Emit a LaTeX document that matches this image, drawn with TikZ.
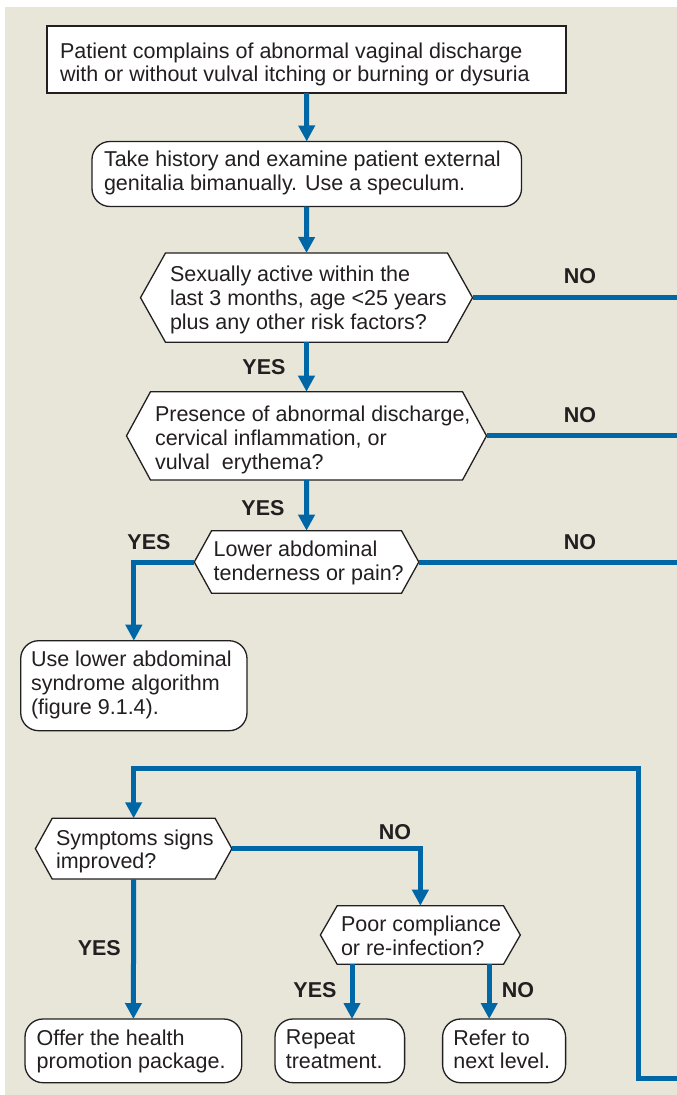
\documentclass[tikz,border=0pt]{standalone}
\usepackage{fontspec}
\setmainfont{Liberation Sans}
\usetikzlibrary{arrows.meta,calc}
\definecolor{bgc}{HTML}{E8E5D9}
\definecolor{flowc}{HTML}{0067A6}
\definecolor{ink}{HTML}{231F20}
\newcommand\hexpath[5]{%
  \draw[boxline] ({#1+#5},#2) -- ({#3-#5},#2) -- (#3,{(#2+#4)/2}) -- ({#3-#5},#4)
    -- ({#1+#5},#4) -- (#1,{(#2+#4)/2}) -- cycle;}
\begin{document}
\begin{tikzpicture}[x=1pt,y=-1pt,
  every node/.style={inner sep=0pt, outer sep=0pt},
  boxline/.style={draw=ink, line width=1.3pt, fill=white},
  rectbox/.style={boxline, rectangle},
  roundbox/.style={boxline, rectangle, rounded corners=18pt},
  hexframe/.style={rectangle},
  txt/.style={anchor=north west, align=left, text=ink, font=\fontsize{21.5}{23.6}\selectfont},
  lbl/.style={text=ink, font=\fontsize{21.5}{23.6}\selectfont\bfseries},
  flow/.style={draw=flowc, line width=5pt, -{Triangle[length=16pt,width=16pt]}},
  flowline/.style={draw=flowc, line width=5pt}]
\useasboundingbox (0,0) rectangle (677,1095);
\fill[bgc] (5,7) rectangle (677,1095);

% box 1
\node[rectbox, minimum width=519pt, minimum height=67pt] (b1) at (306.5,59.5) {};
\node[txt] (b1t) at (60,42.6) {Patient complains of abnormal vaginal discharge\\with or without vulval itching or burning or dysuria};
% box 2
\node[roundbox, minimum width=429.5pt, minimum height=65pt] (b2) at (306.75,174) {};
\node[txt] (b2t) at (104,151.3) {Take history and examine patient external\\genitalia bimanually. Use a speculum.};
% hex 1
\hexpath{140.5}{253}{472.5}{342.3}{25}
\node[hexframe, minimum width=332pt, minimum height=89.3pt] (h1) at (306.5,297.65) {};
\node[txt] (h1t) at (170,266.3) {Sexually active within the\\last 3 months, age <25 years\\plus any other risk factors?};
% hex 2
\hexpath{126.5}{391.7}{486.5}{480}{24}
\node[hexframe, minimum width=360pt, minimum height=88.3pt] (h2) at (306.5,435.85) {};
\node[txt] (h2t) at (155,406.3) {Presence of abnormal discharge,\\cervical inflammation, or\\vulval~ erythema?};
% hex 3
\hexpath{194.3}{530.7}{418.8}{593.3}{17.3}
\node[hexframe, minimum width=224.5pt, minimum height=62.6pt] (h3) at (306.55,562) {};
\node[txt] (h3t) at (213.7,541.3) {Lower abdominal\\tenderness or pain?};
% box 3
\node[roundbox, minimum width=226.3pt, minimum height=90pt] (b3) at (133.85,685.7) {};
\node[txt] (b3t) at (31,651.3) {Use lower abdominal\\syndrome algorithm\\(figure 9.1.4).};
% hex 4
\hexpath{35.4}{818.3}{231.9}{879}{16.8}
\node[hexframe, minimum width=196.5pt, minimum height=60.7pt] (h4) at (133.65,848.65) {};
\node[txt] (h4t) at (56,829.6) {Symptoms signs\\improved?};
% hex 5
\hexpath{320.4}{905.7}{520.3}{964.3}{16.8}
\node[hexframe, minimum width=199.9pt, minimum height=58.6pt] (h5) at (420.35,935) {};
\node[txt] (h5t) at (341,916.3) {Poor compliance\\or re-infection?};
% bottom boxes
\node[roundbox, minimum width=216.8pt, minimum height=63.7pt] (b4) at (133.4,1050.85) {};
\node[txt] (b4t) at (36.7,1029.6) {Offer the health\\promotion package.};
\node[roundbox, minimum width=129.6pt, minimum height=63.7pt] (b5) at (339.8,1050.85) {};
\node[txt] (b5t) at (285.8,1029.6) {Repeat\\treatment.};
\node[roundbox, minimum width=123pt, minimum height=63.7pt] (b6) at (504.1,1050.85) {};
\node[txt] (b6t) at (453.4,1029.6) {Refer to\\next level.};

% free ends
\coordinate (r1) at (677,297.65);
\coordinate (r2) at (677,435.85);
\coordinate (r3) at (677,562);
\coordinate (lp) at (677,1078.5);
\coordinate (lc) at (638,768);

% connectors
\draw[flow] (b1.south) -- (b2.north);
\draw[flow] (b2.south) -- (h1.north);
\draw[flow] (h1.south) -- (h2.north);
\draw[flow] (h2.south) -- (h3.north);
\draw[flowline] (h1.east) -- (r1);
\draw[flowline] (h2.east) -- (r2);
\draw[flowline] (h3.east) -- (r3);
\draw[flow] (h3.west) -| (b3.north);
\draw[flow] (lp) -| (lc) -| (h4.north);
\draw[flow] (h4.east) -| (h5.north);
\draw[flow] (h4.south) -- (b4.north);
\draw[flow] ([xshift=-68.35pt]h5.south) -- ([xshift=12.2pt]b5.north);
\draw[flow] ([xshift=68.85pt]h5.south) -- ([xshift=-14.9pt]b6.north);

% labels
\node[lbl] (n1) at (580,276) {NO};
\node[lbl] (y1) at (264,366.7) {YES};
\node[lbl] (n2) at (580,415) {NO};
\node[lbl] (y2) at (263,508) {YES};
\node[lbl] (y3) at (149,541.7) {YES};
\node[lbl] (n3) at (580,541.7) {NO};
\node[lbl] (n4) at (395,831.7) {NO};
\node[lbl] (y4) at (99.3,948.3) {YES};
\node[lbl] (y5) at (315,990) {YES};
\node[lbl] (n5) at (518,990) {NO};
\end{tikzpicture}
\end{document}
